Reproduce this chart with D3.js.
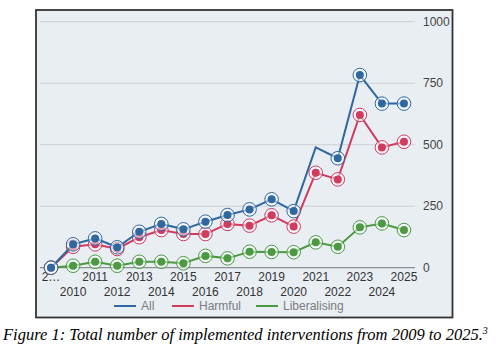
<!DOCTYPE html>
<html><head><meta charset="utf-8">
<script src="https://cdn.jsdelivr.net/npm/d3@7"></script>
<style>
html,body{margin:0;padding:0;background:#fff;}
svg{display:block;}
</style></head>
<body>
<svg id="c" width="501" height="352"></svg>
<script>
const years = [2009,2010,2011,2012,2013,2014,2015,2016,2017,2018,2019,2020,2021,2022,2023,2024,2025];
const allVals = [0,95,119,83,146,178,156,187,214,237,278,230,489,445,783,667,667];
const harmfulVals = [0,85,95,76,124,153,137,137,178,171,213,167,386,359,621,489,512];
const liberalisingVals = [0,8,24,8,24,24,18,48,38,65,64,63,103,85,164,180,153];
const yTicks = [0,250,500,750,1000];
const noMarker = {All:[2021]};
const seriesNames = ["All","Harmful","Liberalising"];
const colors = ["#2f67a0","#d23a5e","#4b9a41"];

const svg = d3.select("#c");
const font = "'Liberation Sans', Arial, sans-serif";

// frame
svg.append("rect").attr("x",36).attr("y",10).attr("width",416.5).attr("height",307.5)
  .attr("fill","#e9eef3").attr("stroke","#333").attr("stroke-width",1.8);

const x = d3.scalePoint().domain(years).range([40,415]).padding(0.5);
const y = d3.scaleLinear().domain([0,1000]).range([267.7,21.7]);

// grid
svg.append("g").selectAll("line").data(yTicks.filter(d=>d>0)).join("line")
  .attr("x1",40).attr("x2",415).attr("y1",d=>y(d)).attr("y2",d=>y(d))
  .attr("stroke","#cdd0d4").attr("stroke-width",1);
svg.append("line").attr("x1",40).attr("x2",415).attr("y1",y(0)).attr("y2",y(0))
  .attr("stroke","#8c8f93").attr("stroke-width",1.3);

// right axis labels
svg.append("g").selectAll("text").data(yTicks).join("text")
  .attr("x",423).attr("y",d=>y(d)).attr("dy","0.35em")
  .attr("font-family",font).attr("font-size",12).attr("fill","#444")
  .text(d=>d);

// x labels
svg.append("g").selectAll("text").data(years).join("text")
  .attr("x",d=>x(d)).attr("y",(d,i)=> i%2===0 ? 280.5 : 295.5)
  .attr("text-anchor","middle")
  .attr("font-family",font).attr("font-size",12).attr("fill","#333")
  .text((d,i)=> i===0 ? "2…" : d);

const data = [allVals,harmfulVals,liberalisingVals];
const line = d3.line().x((d,i)=>x(years[i])).y(d=>y(d));

// draw in order Liberalising, Harmful, All
[2,1,0].forEach(k=>{
  const g = svg.append("g");
  g.append("path").datum(data[k]).attr("d",line).attr("fill","none")
    .attr("stroke",colors[k]).attr("stroke-width",2);
  const skip = noMarker[seriesNames[k]] || [];
  const pts = data[k].map((v,i)=>({v,yr:years[i]})).filter(p=>!skip.includes(p.yr));
  g.selectAll("circle.ring").data(pts).join("circle").attr("class","ring")
    .attr("cx",p=>x(p.yr)).attr("cy",p=>y(p.v)).attr("r",6.8)
    .attr("fill","rgba(255,255,255,0.5)").attr("stroke",colors[k]).attr("stroke-width",1);
  g.selectAll("circle.dot").data(pts).join("circle").attr("class","dot")
    .attr("cx",p=>x(p.yr)).attr("cy",p=>y(p.v)).attr("r",4)
    .attr("fill",colors[k]);
});

// legend
const legX = [114,172,256];
seriesNames.forEach((n,i)=>{
  svg.append("line").attr("x1",legX[i]).attr("x2",legX[i]+22).attr("y1",306).attr("y2",306)
    .attr("stroke",colors[i]).attr("stroke-width",2);
  svg.append("text").attr("x",legX[i]+27).attr("y",306).attr("dy","0.35em")
    .attr("font-family",font).attr("font-size",12).attr("fill","#7a7d80").text(n);
});

// caption
const cap = svg.append("text").attr("x",3).attr("y",340)
  .attr("font-family","'Liberation Serif','Times New Roman',serif").attr("font-style","italic")
  .attr("font-size",16.5).attr("fill","#000");
cap.append("tspan").text("Figure 1: Total number of implemented interventions from 2009 to 2025.");
cap.append("tspan").attr("font-size",10).attr("dy",-6).text("3");
</script>
</body></html>
